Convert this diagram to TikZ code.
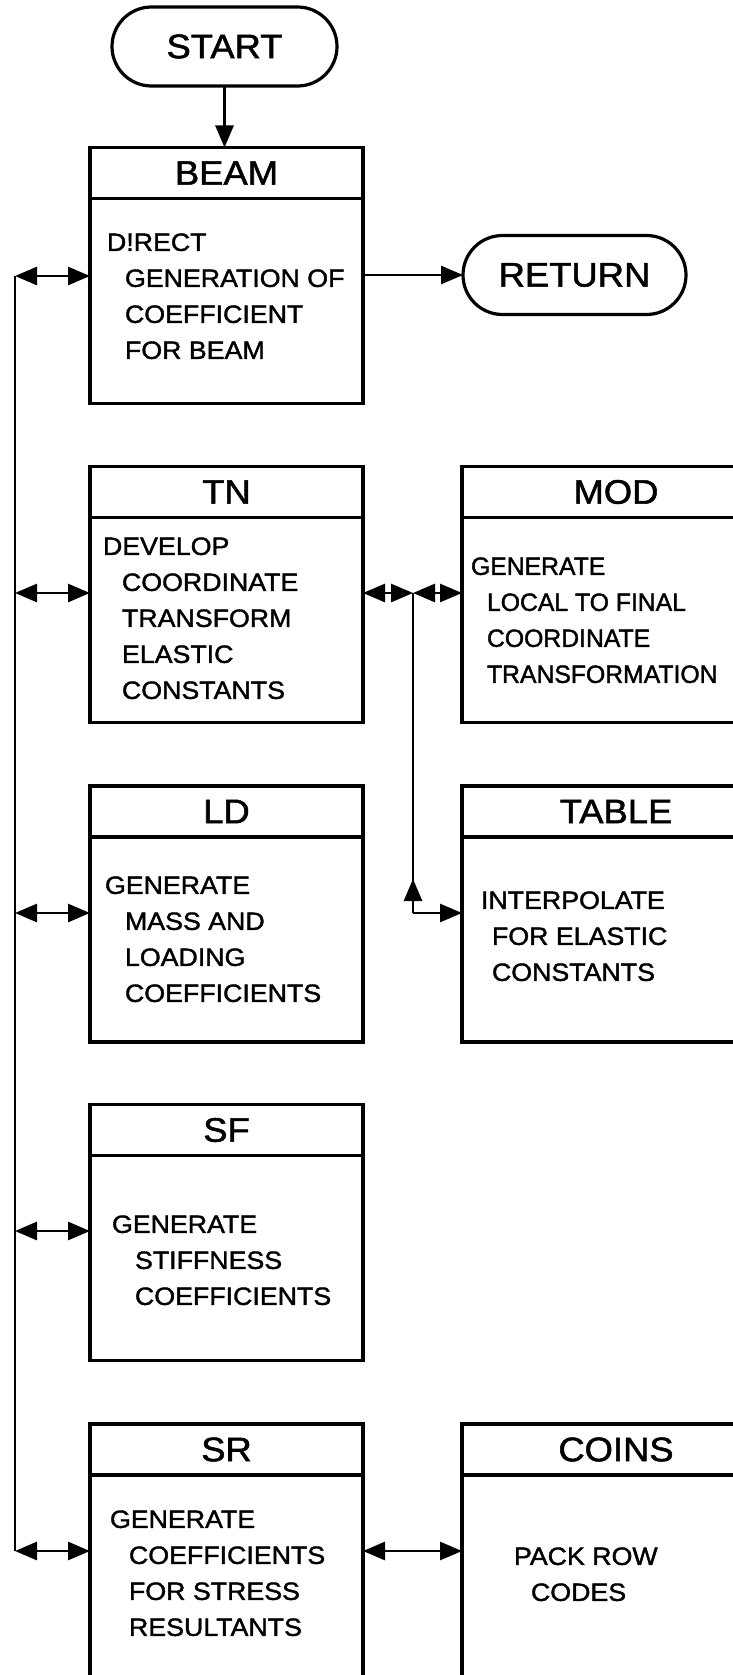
\documentclass[tikz,border=0pt]{standalone}
\usepackage{fontspec}
\newfontfamily\lett[FakeStretch=1.07,FakeBold=1.5]{Liberation Sans}
\newfontfamily\lettn[FakeStretch=0.99,FakeBold=1.5]{Liberation Sans}
\usetikzlibrary{arrows.meta,shapes.misc}
\begin{document}
\begin{tikzpicture}[x=1pt,y=-1pt,
  every node/.style={inner sep=0pt, outer sep=0pt},
  boxln/.style={draw, line width=3.2pt},
  ttl/.style={font=\lett\fontsize{34}{40}\selectfont},
  hdrL/.style={boxln, ttl, minimum width=273pt, minimum height=51pt},
  bodyL/.style={boxln, minimum width=273pt, minimum height=205pt, anchor=north},
  hdrR/.style={boxln, ttl, minimum width=308pt, minimum height=51pt},
  bodyR/.style={boxln, minimum width=308pt, minimum height=205pt, anchor=north},
  term/.style={boxln, ttl, rounded rectangle, minimum height=79pt},
  txt/.style={font=\lett\fontsize{25}{36}\selectfont, align=left, anchor=north west},
  arr/.style={line width=2.8pt, -{Triangle[length=22pt,width=18pt]}},
  dbl/.style={line width=2.8pt, {Triangle[length=22pt,width=18pt]}-{Triangle[length=22pt,width=18pt]}},
  ln/.style={line width=2.8pt}
]
\useasboundingbox (0,0) rectangle (733,1675);
\fill[white] (0,0) rectangle (733,1675);
\clip (0,0) rectangle (733,1675);

% terminals
\node[term, minimum width=225pt] (start) at (224.5,46.5) {START};
\node[term, minimum width=223pt] (ret) at (574.5,275) {RETURN};

% left column
\node[hdrL] (beamH) at (226.5,173) {BEAM};
\node[bodyL] (beam) at (beamH.south) {};
\node[hdrL] (tnH) at (226.5,492) {TN};
\node[bodyL] (tn) at (tnH.south) {};
\node[hdrL] (ldH) at (226.5,811.5) {LD};
\node[bodyL] (ld) at (ldH.south) {};
\node[hdrL] (sfH) at (226.5,1130) {SF};
\node[bodyL] (sf) at (sfH.south) {};
\node[hdrL] (srH) at (226.5,1449.5) {SR};
\node[bodyL, minimum height=300pt] (sr) at (srH.south) {};

% right column
\node[hdrR] (modH) at (616,492) {MOD};
\node[bodyR] (mod) at (modH.south) {};
\node[hdrR] (tabH) at (616,811.5) {TABLE};
\node[bodyR] (tab) at (tabH.south) {};
\node[hdrR] (coinsH) at (616,1449.5) {COINS};
\node[bodyR, minimum height=300pt] (coins) at (coinsH.south) {};

% body texts
\node[txt] (beamtx) at (107,233.4) {D!RECT\\\hspace*{18pt}GENERATION OF\\\hspace*{18pt}COEFFICIENT\\\hspace*{18pt}FOR BEAM};
\node[txt] (tntx) at (103,537.4) {DEVELOP\\\hspace*{19pt}COORDINATE\\\hspace*{19pt}TRANSFORM\\\hspace*{19pt}ELASTIC\\\hspace*{19pt}CONSTANTS};
\node[txt, font=\lettn\fontsize{25}{36}\selectfont] (modtx) at (471,557.4) {GENERATE\\\hspace*{16pt}LOCAL TO FINAL\\\hspace*{16pt}COORDINATE\\\hspace*{16pt}TRANSFORMATION};
\node[txt] (ldtx) at (105,876.4) {GENERATE\\\hspace*{20pt}MASS AND\\\hspace*{20pt}LOADING\\\hspace*{20pt}COEFFICIENTS};
\node[txt] (tabtx) at (481,891.4) {INTERPOLATE\\\hspace*{11pt}FOR ELASTIC\\\hspace*{11pt}CONSTANTS};
\node[txt] (sftx) at (112,1215.4) {GENERATE\\\hspace*{23pt}STIFFNESS\\\hspace*{23pt}COEFFICIENTS};
\node[txt] (srtx) at (110,1510.4) {GENERATE\\\hspace*{19pt}COEFFICIENTS\\\hspace*{19pt}FOR STRESS\\\hspace*{19pt}RESULTANTS};
\node[txt] (coinstx) at (514,1547.4) {PACK ROW\\\hspace*{17pt}CODES};

% connectors
\draw[arr] (start.south) -- (start.south |- beamH.north);
\draw[arr] (ret.west -| beam.east) -- (ret.west);

\coordinate (b1) at (15,276);
\coordinate (b2) at (15,593);
\coordinate (b3) at (15,913);
\coordinate (b4) at (15,1231);
\coordinate (b5) at (15,1551);
\draw[ln] (b1) -- (b5);
\draw[dbl] (b1) -- (b1 -| beam.west);
\draw[dbl] (b2) -- (b2 -| tn.west);
\draw[dbl] (b3) -- (b3 -| ld.west);
\draw[dbl] (b4) -- (b4 -| sf.west);
\draw[dbl] (b5) -- (b5 -| sr.west);
\draw[dbl] (b5 -| sr.east) -- (b5 -| coins.west);

\coordinate (j) at (413,593);
\coordinate (c) at (413,913);
\draw[dbl] (j) -- (j -| tn.east);
\draw[dbl] (j) -- (j -| mod.west);
\draw[ln] (j) -- (c);
\draw[arr] (c) -- (c -| tab.west);
\draw[arr] (c) -- ++(0,-34);
\end{tikzpicture}
\end{document}
